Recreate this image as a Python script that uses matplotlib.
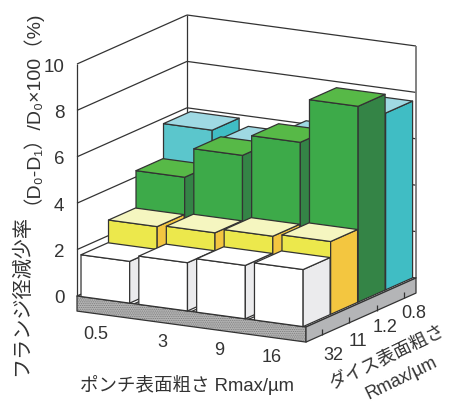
import matplotlib
matplotlib.use('Agg')
from matplotlib import pyplot as plt
from matplotlib.patches import Polygon

plt.rcParams['font.family'] = ['Liberation Sans', 'Noto Sans CJK JP', 'DejaVu Sans']
plt.rcParams['hatch.linewidth'] = 0.5

punch_labels = ['0.5', '3', '9', '16']
die_labels = ['32', '11', '1.2', '0.8']
z_ticks = [0, 2, 4, 6, 8, 10]

# flange diameter reduction per die roughness, in punch roughness order
reduction_die_32 = [1.8, 2.08, 2.3, 2.46]
reduction_die_11 = [2.77, 2.84, 3.03, 3.14]
reduction_die_1_2 = [4.37, 5.65, 6.55, 8.44]
reduction_die_0_8 = [5.87, 5.57, 6.15, 7.62]

# front, top and side shades of each die row
colors_die_32 = ['#ffffff', '#ffffff', '#ebebed']
colors_die_11 = ['#ece84c', '#f5f6c0', '#f3c640']
colors_die_1_2 = ['#3daa49', '#57b947', '#348446']
colors_die_0_8 = ['#5bc6cc', '#9fd9e3', '#40bdc4']

INK = '#333333'
FLOOR_DROP = 0.65


def project(x, y, z):
    """Oblique projection: x = punch slot, y = die row, z = reduction [%]."""
    return (77 + 57.25 * x + 27.5 * y, 297 + 7.75 * x - 12.25 * y - 23.2 * z)


def face(ax, corners, color, edge=INK, lw=0.9, **kw):
    ax.add_patch(Polygon([project(*c) for c in corners], closed=True,
                         facecolor=color, edgecolor=edge, lw=lw, zorder=1,
                         joinstyle='round', **kw))


def line(ax, p0, p1, color=INK, lw=0.9):
    # same zorder as the faces, so later bars paint over earlier lines
    (x0, y0), (x1, y1) = project(*p0), project(*p1)
    ax.plot([x0, x1], [y0, y1], color=color, lw=lw, solid_capstyle='butt',
            zorder=1)


def draw_bar(ax, x0, x1, y0, y1, h, colors):
    front, top, side = colors
    face(ax, [(x0, y0, 0), (x1, y0, 0), (x1, y0, h), (x0, y0, h)], front)
    face(ax, [(x1, y0, 0), (x1, y1, 0), (x1, y1, h), (x1, y0, h)], side)
    face(ax, [(x0, y0, h), (x1, y0, h), (x1, y1, h), (x0, y1, h)], top)


fig = plt.figure(figsize=(4.49, 4.02), dpi=100)
ax = fig.add_axes([0, 0, 1, 1])
ax.set_xlim(0, 449)
ax.set_ylim(402, 0)
ax.axis('off')

# walls
for z in z_ticks[1:]:
    line(ax, (0, 0, z), (0, 4, z))
    line(ax, (0, 4, z), (4, 4, z))
line(ax, (0, 0, 0), (0, 0, 10))
line(ax, (0, 4, 0), (0, 4, 10))
line(ax, (4, 4, 0), (4, 4, 10), color='#777777', lw=1.3)

# floor slab
face(ax, [(0, 0, 0), (4, 0, 0), (4, 4, 0), (0, 4, 0)], 'white')
face(ax, [(0, 0, 0), (4, 0, 0), (4, 0, -FLOOR_DROP), (0, 0, -FLOOR_DROP)],
     '#b4b4b4', edge='#777777', lw=0, hatch='.........')
face(ax, [(0, 0, 0), (4, 0, 0), (4, 0, -FLOOR_DROP), (0, 0, -FLOOR_DROP)],
     'none')
face(ax, [(4, 0, 0), (4, 4, 0), (4, 4, -FLOOR_DROP), (4, 0, -FLOOR_DROP)],
     '#b4b5b7')
for i in range(1, 4):
    line(ax, (i, 0, 0), (i, 4, 0))
for j in range(4):
    line(ax, (4, j + 0.57, -FLOOR_DROP), (4, j + 0.57, -0.39))

# bars, back row first and left to right so nearer faces cover farther ones
rows = [(reduction_die_32, colors_die_32), (reduction_die_11, colors_die_11),
        (reduction_die_1_2, colors_die_1_2), (reduction_die_0_8, colors_die_0_8)]
for j in range(3, -1, -1):
    values, colors = rows[j]
    for i, h in enumerate(values):
        x0 = 0.07 + i * 1.01
        draw_bar(ax, x0, x0 + 0.85, j, j + 0.98, h, colors)

# z tick labels
for z in z_ticks:
    ax.text(64.5, project(0, 0, z)[1], str(z), ha='right', va='center_baseline',
            fontsize=13.5, color=INK)

# punch and die tick labels
punch_pos = [(95.7, 335), (162, 342.7), (219, 350.7), (271.7, 358)]
die_pos = [(333, 355.7), (357.7, 341.7), (385, 327.7), (414, 314)]
for label, (x, y) in zip(punch_labels, punch_pos):
    ax.text(x, y, label, ha='center', va='center', fontsize=13, color=INK)
for label, (x, y) in zip(die_labels, die_pos):
    ax.text(x, y, label, ha='center', va='center', fontsize=13, color=INK)

# axis titles
ax.text(186.5, 385, 'ポンチ表面粗さ Rmax/µm', ha='center', va='center',
        fontsize=13.3, color=INK)
ax.text(388, 358, 'ダイス表面粗さ', ha='center', va='center', rotation=26,
        rotation_mode='anchor', fontsize=13, color=INK)
ax.text(401.7, 378, 'Rmax/µm', ha='center', va='center', rotation=26,
        rotation_mode='anchor', fontsize=13, color=INK)
ax.text(21, 376, 'フランジ径減少率', ha='center', va='bottom', rotation=90,
        fontsize=14.5, color=INK)
ax.text(21, 204, '（D₀-D₁）/D₀×100（%)', ha='center', va='bottom', rotation=90,
        fontsize=14, color=INK)

fig.savefig('out.png', dpi=100, facecolor='white')
